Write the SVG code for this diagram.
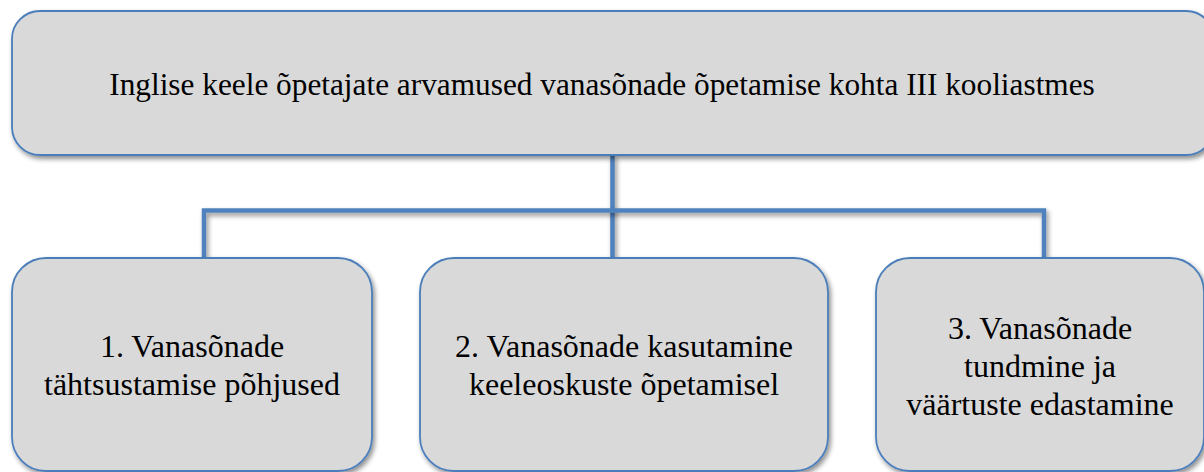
<svg xmlns="http://www.w3.org/2000/svg" width="1204" height="472" viewBox="0 0 1204 472">
<defs>
<filter id="sh" filterUnits="userSpaceOnUse" x="0" y="0" width="1204" height="472">
<feGaussianBlur in="SourceAlpha" stdDeviation="2.5"/>
<feOffset dx="2" dy="3" result="b"/>
<feComponentTransfer><feFuncA type="linear" slope="0.45"/></feComponentTransfer>
<feMerge><feMergeNode/><feMergeNode in="SourceGraphic"/></feMerge>
</filter>
</defs>
<style>
.box{fill:#d9d9d9;stroke:#4a7ebb;stroke-width:1.8;filter:url(#sh)}
text{font-family:"Liberation Serif","Times New Roman",serif;fill:#000;text-anchor:middle}
.con{fill:none;stroke:#4f81bd;stroke-width:4.5;filter:url(#sh)}
</style>
<rect width="1204" height="472" fill="#fff"/>
<g id="connectors">
<path class="con" d="M612.5 155 V258"/>
<path class="con" d="M204 258 V210.5 H1044 V258"/>
</g>
<g id="root">
<rect class="box" x="12" y="11" width="1202" height="144" rx="28" ry="28"/>
<text x="602" y="95" font-family="Liberation Serif, serif" font-size="31.3">Inglise keele õpetajate arvamused vanasõnade õpetamise kohta III kooliastmes</text>
</g>
<g id="node1">
<rect class="box" x="12" y="258" width="360" height="213" rx="34" ry="34"/>
<text x="192" y="357" font-family="Liberation Serif, serif" font-size="32">1. Vanasõnade</text>
<text x="192" y="395" font-family="Liberation Serif, serif" font-size="32">tähtsustamise põhjused</text>
</g>
<g id="node2">
<rect class="box" x="420" y="258" width="408" height="213" rx="34" ry="34"/>
<text x="624" y="357" font-family="Liberation Serif, serif" font-size="32">2. Vanasõnade kasutamine</text>
<text x="624" y="395" font-family="Liberation Serif, serif" font-size="32">keeleoskuste õpetamisel</text>
</g>
<g id="node3">
<rect class="box" x="876" y="258" width="328" height="213" rx="34" ry="34"/>
<text x="1040" y="339" font-family="Liberation Serif, serif" font-size="32">3. Vanasõnade</text>
<text x="1040" y="377" font-family="Liberation Serif, serif" font-size="32">tundmine ja</text>
<text x="1040" y="415" font-family="Liberation Serif, serif" font-size="32">väärtuste edastamine</text>
</g>
</svg>
